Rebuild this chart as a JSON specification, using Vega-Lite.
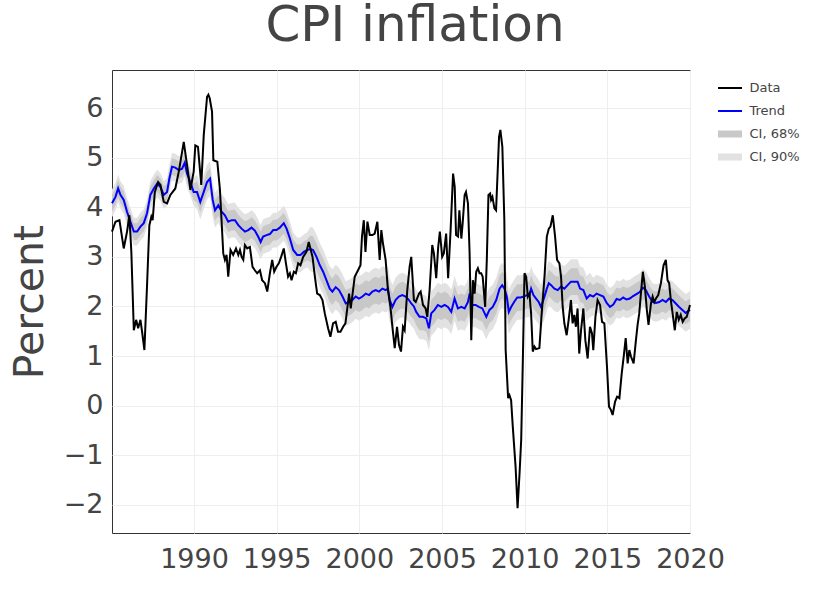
{
  "$schema": "https://vega.github.io/schema/vega-lite/v6.json",
  "width": 578,
  "height": 463,
  "autosize": {"type": "none"},
  "padding": {"left": 112, "top": 70, "right": 141, "bottom": 60},
  "background": "white",
  "title": {"text": "CPI inflation", "font": "DejaVu Sans", "fontSize": 50, "fontWeight": "normal", "color": "#444", "anchor": "middle", "frame": "group", "dx": 14, "offset": 19},
  "config": {
    "view": {"stroke": "#333", "strokeWidth": 1},
    "font": "DejaVu Sans",
    "axis": {"grid": true, "gridColor": "#eeeeee", "gridWidth": 1, "domain": false, "ticks": false, "tickSize": 0, "labelFont": "DejaVu Sans", "labelFontSize": 27, "labelColor": "#444", "titleFont": "DejaVu Sans", "titleFontWeight": "normal", "titleColor": "#444", "labelFlush": false, "labelOverlap": false}
  },
  "datasets": {
    "obs": [
      {"t":1985.04,"v":3.51},{"t":1985.25,"v":3.71},{"t":1985.49,"v":3.74},{"t":1985.75,"v":3.17},{"t":1985.95,"v":3.51},{"t":1986.09,"v":3.84},{"t":1986.21,"v":3.10},{"t":1986.36,"v":1.52},{"t":1986.50,"v":1.73},{"t":1986.62,"v":1.56},{"t":1986.76,"v":1.73},{"t":1986.86,"v":1.49},{"t":1987.00,"v":1.12},{"t":1987.16,"v":2.43},{"t":1987.30,"v":3.64},{"t":1987.42,"v":3.81},{"t":1987.50,"v":3.74},{"t":1987.63,"v":4.31},{"t":1987.83,"v":4.51},{"t":1987.97,"v":4.45},{"t":1988.17,"v":4.11},{"t":1988.37,"v":4.08},{"t":1988.57,"v":4.25},{"t":1988.87,"v":4.38},{"t":1989.08,"v":4.72},{"t":1989.38,"v":5.32},{"t":1989.58,"v":4.85},{"t":1989.78,"v":4.35},{"t":1989.98,"v":4.72},{"t":1990.08,"v":5.25},{"t":1990.24,"v":5.22},{"t":1990.44,"v":4.45},{"t":1990.59,"v":5.46},{"t":1990.79,"v":6.23},{"t":1990.87,"v":6.27},{"t":1990.95,"v":6.20},{"t":1991.09,"v":5.93},{"t":1991.17,"v":4.95},{"t":1991.41,"v":4.92},{"t":1991.57,"v":4.35},{"t":1991.77,"v":3.07},{"t":1991.87,"v":2.94},{"t":1991.97,"v":3.04},{"t":1992.07,"v":2.60},{"t":1992.21,"v":3.14},{"t":1992.37,"v":3.04},{"t":1992.54,"v":3.17},{"t":1992.68,"v":3.04},{"t":1992.78,"v":3.14},{"t":1992.88,"v":3.00},{"t":1992.98,"v":2.94},{"t":1993.08,"v":3.24},{"t":1993.22,"v":3.17},{"t":1993.38,"v":3.20},{"t":1993.54,"v":2.80},{"t":1993.68,"v":2.73},{"t":1993.82,"v":2.67},{"t":1993.99,"v":2.73},{"t":1994.12,"v":2.53},{"t":1994.29,"v":2.47},{"t":1994.43,"v":2.30},{"t":1994.59,"v":2.67},{"t":1994.73,"v":2.94},{"t":1994.85,"v":2.70},{"t":1994.99,"v":2.80},{"t":1995.13,"v":2.87},{"t":1995.27,"v":3.00},{"t":1995.43,"v":3.17},{"t":1995.56,"v":2.87},{"t":1995.69,"v":2.60},{"t":1995.80,"v":2.67},{"t":1995.90,"v":2.53},{"t":1996.04,"v":2.70},{"t":1996.16,"v":2.67},{"t":1996.30,"v":2.87},{"t":1996.44,"v":2.83},{"t":1996.60,"v":3.00},{"t":1996.80,"v":3.10},{"t":1996.94,"v":3.30},{"t":1997.17,"v":3.00},{"t":1997.31,"v":2.60},{"t":1997.45,"v":2.26},{"t":1997.61,"v":2.23},{"t":1997.77,"v":2.13},{"t":1997.91,"v":1.86},{"t":1998.11,"v":1.56},{"t":1998.25,"v":1.39},{"t":1998.41,"v":1.66},{"t":1998.57,"v":1.69},{"t":1998.71,"v":1.49},{"t":1998.86,"v":1.49},{"t":1999.02,"v":1.59},{"t":1999.16,"v":1.66},{"t":1999.26,"v":1.93},{"t":1999.38,"v":2.26},{"t":1999.48,"v":1.96},{"t":1999.62,"v":2.33},{"t":1999.72,"v":2.60},{"t":1999.92,"v":2.73},{"t":2000.07,"v":2.83},{"t":2000.16,"v":3.41},{"t":2000.27,"v":3.74},{"t":2000.37,"v":3.10},{"t":2000.49,"v":3.71},{"t":2000.63,"v":3.44},{"t":2000.79,"v":3.44},{"t":2000.93,"v":3.47},{"t":2001.09,"v":3.71},{"t":2001.23,"v":2.94},{"t":2001.33,"v":3.54},{"t":2001.43,"v":3.27},{"t":2001.59,"v":2.94},{"t":2001.73,"v":2.33},{"t":2001.88,"v":1.99},{"t":2002.00,"v":1.59},{"t":2002.14,"v":1.16},{"t":2002.28,"v":1.59},{"t":2002.40,"v":1.22},{"t":2002.52,"v":1.09},{"t":2002.64,"v":1.59},{"t":2002.74,"v":1.52},{"t":2002.90,"v":2.33},{"t":2003.04,"v":2.80},{"t":2003.14,"v":3.00},{"t":2003.30,"v":2.13},{"t":2003.41,"v":2.09},{"t":2003.61,"v":2.26},{"t":2003.71,"v":2.30},{"t":2003.85,"v":2.03},{"t":2004.01,"v":1.96},{"t":2004.11,"v":1.79},{"t":2004.25,"v":2.33},{"t":2004.41,"v":3.24},{"t":2004.51,"v":3.07},{"t":2004.65,"v":2.57},{"t":2004.77,"v":3.20},{"t":2004.87,"v":3.51},{"t":2005.01,"v":3.00},{"t":2005.11,"v":3.07},{"t":2005.25,"v":3.47},{"t":2005.37,"v":2.57},{"t":2005.52,"v":3.54},{"t":2005.67,"v":4.68},{"t":2005.77,"v":4.41},{"t":2005.85,"v":3.44},{"t":2005.97,"v":3.41},{"t":2006.05,"v":3.94},{"t":2006.17,"v":3.37},{"t":2006.25,"v":3.68},{"t":2006.37,"v":4.25},{"t":2006.45,"v":4.31},{"t":2006.57,"v":4.08},{"t":2006.67,"v":3.07},{"t":2006.77,"v":1.32},{"t":2006.87,"v":2.53},{"t":2006.97,"v":2.26},{"t":2007.07,"v":2.70},{"t":2007.17,"v":2.77},{"t":2007.27,"v":2.67},{"t":2007.37,"v":2.67},{"t":2007.46,"v":2.60},{"t":2007.61,"v":1.99},{"t":2007.71,"v":2.94},{"t":2007.81,"v":4.25},{"t":2007.91,"v":4.28},{"t":2007.97,"v":4.15},{"t":2008.05,"v":4.21},{"t":2008.17,"v":3.98},{"t":2008.27,"v":3.94},{"t":2008.37,"v":4.75},{"t":2008.45,"v":5.42},{"t":2008.53,"v":5.56},{"t":2008.65,"v":5.22},{"t":2008.77,"v":3.74},{"t":2008.85,"v":1.12},{"t":2009.00,"v":0.15},{"t":2009.08,"v":0.21},{"t":2009.18,"v":0.11},{"t":2009.28,"v":-0.42},{"t":2009.45,"v":-1.23},{"t":2009.57,"v":-2.07},{"t":2009.69,"v":-1.37},{"t":2009.79,"v":-0.69},{"t":2009.89,"v":0.92},{"t":2009.99,"v":2.67},{"t":2010.09,"v":2.60},{"t":2010.19,"v":2.20},{"t":2010.29,"v":2.26},{"t":2010.39,"v":1.86},{"t":2010.49,"v":1.09},{"t":2010.59,"v":1.19},{"t":2010.69,"v":1.14},{"t":2010.89,"v":1.16},{"t":2011.03,"v":1.86},{"t":2011.20,"v":2.60},{"t":2011.34,"v":3.41},{"t":2011.46,"v":3.57},{"t":2011.56,"v":3.61},{"t":2011.70,"v":3.84},{"t":2011.84,"v":3.41},{"t":2011.96,"v":2.94},{"t":2012.10,"v":2.87},{"t":2012.20,"v":2.60},{"t":2012.30,"v":1.99},{"t":2012.40,"v":1.66},{"t":2012.54,"v":1.42},{"t":2012.66,"v":1.73},{"t":2012.80,"v":2.13},{"t":2012.90,"v":1.66},{"t":2013.00,"v":1.83},{"t":2013.10,"v":1.59},{"t":2013.20,"v":1.96},{"t":2013.30,"v":1.05},{"t":2013.41,"v":1.52},{"t":2013.55,"v":1.96},{"t":2013.67,"v":1.32},{"t":2013.81,"v":0.95},{"t":2013.95,"v":1.59},{"t":2014.07,"v":1.46},{"t":2014.15,"v":1.12},{"t":2014.28,"v":1.79},{"t":2014.41,"v":2.13},{"t":2014.56,"v":2.03},{"t":2014.68,"v":1.69},{"t":2014.82,"v":1.66},{"t":2014.98,"v":0.78},{"t":2015.10,"v":-0.02},{"t":2015.22,"v":-0.09},{"t":2015.32,"v":-0.19},{"t":2015.47,"v":0.08},{"t":2015.59,"v":0.18},{"t":2015.73,"v":0.15},{"t":2015.87,"v":0.65},{"t":2015.99,"v":0.99},{"t":2016.11,"v":1.36},{"t":2016.23,"v":0.85},{"t":2016.33,"v":1.12},{"t":2016.43,"v":0.99},{"t":2016.59,"v":0.85},{"t":2016.73,"v":1.32},{"t":2016.83,"v":1.63},{"t":2016.93,"v":1.86},{"t":2017.03,"v":2.26},{"t":2017.15,"v":2.70},{"t":2017.27,"v":2.40},{"t":2017.39,"v":1.93},{"t":2017.49,"v":1.63},{"t":2017.64,"v":2.06},{"t":2017.74,"v":2.20},{"t":2017.84,"v":2.09},{"t":2017.94,"v":2.16},{"t":2018.08,"v":2.23},{"t":2018.24,"v":2.47},{"t":2018.40,"v":2.83},{"t":2018.54,"v":2.94},{"t":2018.64,"v":2.53},{"t":2018.74,"v":2.47},{"t":2018.84,"v":2.13},{"t":2018.96,"v":1.83},{"t":2019.08,"v":1.52},{"t":2019.20,"v":1.89},{"t":2019.32,"v":1.73},{"t":2019.44,"v":1.83},{"t":2019.56,"v":1.69},{"t":2019.68,"v":1.76},{"t":2019.80,"v":1.79},{"t":2020.00,"v":2.03}
    ],
    "trend": [
      {"t":1985.04,"v":4.08,"lo90":3.80,"lo68":3.91,"hi68":4.25,"hi90":4.36},
      {"t":1985.25,"v":4.21,"lo90":3.93,"lo68":4.04,"hi68":4.38,"hi90":4.49},
      {"t":1985.41,"v":4.38,"lo90":4.10,"lo68":4.21,"hi68":4.55,"hi90":4.66},
      {"t":1985.55,"v":4.25,"lo90":3.97,"lo68":4.08,"hi68":4.42,"hi90":4.53},
      {"t":1985.75,"v":4.15,"lo90":3.87,"lo68":3.98,"hi68":4.32,"hi90":4.43},
      {"t":1985.95,"v":3.91,"lo90":3.63,"lo68":3.74,"hi68":4.08,"hi90":4.19},
      {"t":1986.15,"v":3.71,"lo90":3.43,"lo68":3.54,"hi68":3.88,"hi90":3.99},
      {"t":1986.36,"v":3.51,"lo90":3.23,"lo68":3.34,"hi68":3.68,"hi90":3.79},
      {"t":1986.56,"v":3.51,"lo90":3.23,"lo68":3.34,"hi68":3.68,"hi90":3.79},
      {"t":1986.76,"v":3.61,"lo90":3.33,"lo68":3.44,"hi68":3.78,"hi90":3.89},
      {"t":1986.96,"v":3.68,"lo90":3.40,"lo68":3.51,"hi68":3.85,"hi90":3.96},
      {"t":1987.16,"v":3.88,"lo90":3.60,"lo68":3.71,"hi68":4.05,"hi90":4.16},
      {"t":1987.36,"v":4.25,"lo90":3.97,"lo68":4.08,"hi68":4.42,"hi90":4.53},
      {"t":1987.57,"v":4.38,"lo90":4.10,"lo68":4.21,"hi68":4.55,"hi90":4.66},
      {"t":1987.77,"v":4.48,"lo90":4.20,"lo68":4.31,"hi68":4.65,"hi90":4.76},
      {"t":1987.97,"v":4.41,"lo90":4.13,"lo68":4.24,"hi68":4.58,"hi90":4.69},
      {"t":1988.17,"v":4.25,"lo90":3.97,"lo68":4.08,"hi68":4.42,"hi90":4.53},
      {"t":1988.37,"v":4.31,"lo90":4.03,"lo68":4.14,"hi68":4.48,"hi90":4.59},
      {"t":1988.51,"v":4.58,"lo90":4.30,"lo68":4.41,"hi68":4.75,"hi90":4.86},
      {"t":1988.67,"v":4.82,"lo90":4.54,"lo68":4.65,"hi68":4.99,"hi90":5.10},
      {"t":1988.87,"v":4.80,"lo90":4.52,"lo68":4.63,"hi68":4.97,"hi90":5.08},
      {"t":1989.08,"v":4.75,"lo90":4.47,"lo68":4.58,"hi68":4.92,"hi90":5.03},
      {"t":1989.28,"v":4.78,"lo90":4.50,"lo68":4.61,"hi68":4.95,"hi90":5.06},
      {"t":1989.44,"v":4.90,"lo90":4.62,"lo68":4.73,"hi68":5.07,"hi90":5.18},
      {"t":1989.58,"v":4.68,"lo90":4.40,"lo68":4.51,"hi68":4.85,"hi90":4.96},
      {"t":1989.78,"v":4.51,"lo90":4.23,"lo68":4.34,"hi68":4.68,"hi90":4.79},
      {"t":1989.98,"v":4.31,"lo90":4.03,"lo68":4.14,"hi68":4.48,"hi90":4.59},
      {"t":1990.18,"v":4.31,"lo90":3.96,"lo68":4.10,"hi68":4.52,"hi90":4.66},
      {"t":1990.38,"v":4.11,"lo90":3.76,"lo68":3.90,"hi68":4.32,"hi90":4.46},
      {"t":1990.59,"v":4.31,"lo90":3.96,"lo68":4.10,"hi68":4.52,"hi90":4.66},
      {"t":1990.79,"v":4.51,"lo90":4.16,"lo68":4.30,"hi68":4.72,"hi90":4.86},
      {"t":1990.97,"v":4.58,"lo90":4.23,"lo68":4.37,"hi68":4.79,"hi90":4.93},
      {"t":1991.13,"v":4.15,"lo90":3.80,"lo68":3.94,"hi68":4.36,"hi90":4.50},
      {"t":1991.27,"v":3.94,"lo90":3.59,"lo68":3.73,"hi68":4.15,"hi90":4.29},
      {"t":1991.47,"v":4.04,"lo90":3.69,"lo68":3.83,"hi68":4.25,"hi90":4.39},
      {"t":1991.67,"v":3.91,"lo90":3.56,"lo68":3.70,"hi68":4.12,"hi90":4.26},
      {"t":1991.87,"v":3.84,"lo90":3.49,"lo68":3.63,"hi68":4.05,"hi90":4.19},
      {"t":1992.07,"v":3.71,"lo90":3.36,"lo68":3.50,"hi68":3.92,"hi90":4.06},
      {"t":1992.28,"v":3.74,"lo90":3.39,"lo68":3.53,"hi68":3.95,"hi90":4.09},
      {"t":1992.48,"v":3.74,"lo90":3.39,"lo68":3.53,"hi68":3.95,"hi90":4.09},
      {"t":1992.68,"v":3.64,"lo90":3.29,"lo68":3.43,"hi68":3.85,"hi90":3.99},
      {"t":1992.88,"v":3.57,"lo90":3.22,"lo68":3.36,"hi68":3.78,"hi90":3.92},
      {"t":1993.08,"v":3.51,"lo90":3.16,"lo68":3.30,"hi68":3.72,"hi90":3.86},
      {"t":1993.28,"v":3.54,"lo90":3.19,"lo68":3.33,"hi68":3.75,"hi90":3.89},
      {"t":1993.48,"v":3.59,"lo90":3.24,"lo68":3.38,"hi68":3.80,"hi90":3.94},
      {"t":1993.68,"v":3.53,"lo90":3.18,"lo68":3.32,"hi68":3.74,"hi90":3.88},
      {"t":1993.88,"v":3.41,"lo90":3.06,"lo68":3.20,"hi68":3.62,"hi90":3.76},
      {"t":1994.03,"v":3.30,"lo90":2.95,"lo68":3.09,"hi68":3.51,"hi90":3.65},
      {"t":1994.18,"v":3.41,"lo90":3.06,"lo68":3.20,"hi68":3.62,"hi90":3.76},
      {"t":1994.39,"v":3.44,"lo90":3.09,"lo68":3.23,"hi68":3.65,"hi90":3.79},
      {"t":1994.59,"v":3.46,"lo90":3.11,"lo68":3.25,"hi68":3.67,"hi90":3.81},
      {"t":1994.79,"v":3.54,"lo90":3.19,"lo68":3.33,"hi68":3.75,"hi90":3.89},
      {"t":1994.99,"v":3.54,"lo90":3.19,"lo68":3.33,"hi68":3.75,"hi90":3.89},
      {"t":1995.19,"v":3.59,"lo90":3.24,"lo68":3.38,"hi68":3.80,"hi90":3.94},
      {"t":1995.43,"v":3.68,"lo90":3.33,"lo68":3.47,"hi68":3.89,"hi90":4.03},
      {"t":1995.60,"v":3.57,"lo90":3.22,"lo68":3.36,"hi68":3.78,"hi90":3.92},
      {"t":1995.80,"v":3.37,"lo90":3.02,"lo68":3.16,"hi68":3.58,"hi90":3.72},
      {"t":1996.00,"v":3.14,"lo90":2.79,"lo68":2.93,"hi68":3.35,"hi90":3.49},
      {"t":1996.24,"v":3.04,"lo90":2.69,"lo68":2.83,"hi68":3.25,"hi90":3.39},
      {"t":1996.44,"v":3.04,"lo90":2.69,"lo68":2.83,"hi68":3.25,"hi90":3.39},
      {"t":1996.64,"v":3.10,"lo90":2.75,"lo68":2.89,"hi68":3.31,"hi90":3.45},
      {"t":1996.84,"v":3.14,"lo90":2.79,"lo68":2.93,"hi68":3.35,"hi90":3.49},
      {"t":1997.05,"v":3.16,"lo90":2.71,"lo68":2.89,"hi68":3.43,"hi90":3.61},
      {"t":1997.20,"v":3.14,"lo90":2.69,"lo68":2.87,"hi68":3.41,"hi90":3.59},
      {"t":1997.41,"v":3.00,"lo90":2.55,"lo68":2.73,"hi68":3.27,"hi90":3.45},
      {"t":1997.61,"v":2.83,"lo90":2.38,"lo68":2.56,"hi68":3.10,"hi90":3.28},
      {"t":1997.81,"v":2.70,"lo90":2.25,"lo68":2.43,"hi68":2.97,"hi90":3.15},
      {"t":1998.01,"v":2.53,"lo90":2.08,"lo68":2.26,"hi68":2.80,"hi90":2.98},
      {"t":1998.21,"v":2.36,"lo90":1.91,"lo68":2.09,"hi68":2.63,"hi90":2.81},
      {"t":1998.37,"v":2.30,"lo90":1.85,"lo68":2.03,"hi68":2.57,"hi90":2.75},
      {"t":1998.57,"v":2.39,"lo90":1.94,"lo68":2.12,"hi68":2.66,"hi90":2.84},
      {"t":1998.77,"v":2.33,"lo90":1.88,"lo68":2.06,"hi68":2.60,"hi90":2.78},
      {"t":1998.98,"v":2.20,"lo90":1.75,"lo68":1.93,"hi68":2.47,"hi90":2.65},
      {"t":1999.18,"v":2.06,"lo90":1.61,"lo68":1.79,"hi68":2.33,"hi90":2.51},
      {"t":1999.38,"v":2.09,"lo90":1.64,"lo68":1.82,"hi68":2.36,"hi90":2.54},
      {"t":1999.58,"v":2.13,"lo90":1.68,"lo68":1.86,"hi68":2.40,"hi90":2.58},
      {"t":1999.78,"v":2.20,"lo90":1.75,"lo68":1.93,"hi68":2.47,"hi90":2.65},
      {"t":1999.98,"v":2.16,"lo90":1.71,"lo68":1.89,"hi68":2.43,"hi90":2.61},
      {"t":2000.19,"v":2.20,"lo90":1.75,"lo68":1.93,"hi68":2.47,"hi90":2.65},
      {"t":2000.39,"v":2.26,"lo90":1.81,"lo68":1.99,"hi68":2.53,"hi90":2.71},
      {"t":2000.59,"v":2.23,"lo90":1.78,"lo68":1.96,"hi68":2.50,"hi90":2.68},
      {"t":2000.79,"v":2.30,"lo90":1.85,"lo68":2.03,"hi68":2.57,"hi90":2.75},
      {"t":2000.99,"v":2.33,"lo90":1.88,"lo68":2.06,"hi68":2.60,"hi90":2.78},
      {"t":2001.19,"v":2.30,"lo90":1.85,"lo68":2.03,"hi68":2.57,"hi90":2.75},
      {"t":2001.40,"v":2.36,"lo90":1.91,"lo68":2.09,"hi68":2.63,"hi90":2.81},
      {"t":2001.59,"v":2.33,"lo90":1.88,"lo68":2.06,"hi68":2.60,"hi90":2.78},
      {"t":2001.73,"v":2.36,"lo90":1.91,"lo68":2.09,"hi68":2.63,"hi90":2.81},
      {"t":2001.84,"v":2.13,"lo90":1.68,"lo68":1.86,"hi68":2.40,"hi90":2.58},
      {"t":2002.00,"v":1.99,"lo90":1.54,"lo68":1.72,"hi68":2.26,"hi90":2.44},
      {"t":2002.19,"v":2.13,"lo90":1.68,"lo68":1.86,"hi68":2.40,"hi90":2.58},
      {"t":2002.39,"v":2.20,"lo90":1.75,"lo68":1.93,"hi68":2.47,"hi90":2.65},
      {"t":2002.60,"v":2.23,"lo90":1.78,"lo68":1.96,"hi68":2.50,"hi90":2.68},
      {"t":2002.80,"v":2.20,"lo90":1.75,"lo68":1.93,"hi68":2.47,"hi90":2.65},
      {"t":2003.00,"v":2.13,"lo90":1.68,"lo68":1.86,"hi68":2.40,"hi90":2.58},
      {"t":2003.14,"v":2.06,"lo90":1.61,"lo68":1.79,"hi68":2.33,"hi90":2.51},
      {"t":2003.30,"v":2.00,"lo90":1.55,"lo68":1.73,"hi68":2.27,"hi90":2.45},
      {"t":2003.44,"v":1.89,"lo90":1.44,"lo68":1.62,"hi68":2.16,"hi90":2.34},
      {"t":2003.64,"v":1.79,"lo90":1.34,"lo68":1.52,"hi68":2.06,"hi90":2.24},
      {"t":2003.84,"v":1.79,"lo90":1.34,"lo68":1.52,"hi68":2.06,"hi90":2.24},
      {"t":2004.05,"v":1.76,"lo90":1.31,"lo68":1.49,"hi68":2.03,"hi90":2.21},
      {"t":2004.21,"v":1.56,"lo90":1.11,"lo68":1.29,"hi68":1.83,"hi90":2.01},
      {"t":2004.35,"v":1.86,"lo90":1.41,"lo68":1.59,"hi68":2.13,"hi90":2.31},
      {"t":2004.55,"v":1.93,"lo90":1.48,"lo68":1.66,"hi68":2.20,"hi90":2.38},
      {"t":2004.75,"v":2.03,"lo90":1.58,"lo68":1.76,"hi68":2.30,"hi90":2.48},
      {"t":2004.96,"v":1.99,"lo90":1.54,"lo68":1.72,"hi68":2.26,"hi90":2.44},
      {"t":2005.16,"v":2.03,"lo90":1.58,"lo68":1.76,"hi68":2.30,"hi90":2.48},
      {"t":2005.36,"v":1.99,"lo90":1.54,"lo68":1.72,"hi68":2.26,"hi90":2.44},
      {"t":2005.56,"v":1.89,"lo90":1.44,"lo68":1.62,"hi68":2.16,"hi90":2.34},
      {"t":2005.76,"v":2.16,"lo90":1.71,"lo68":1.89,"hi68":2.43,"hi90":2.61},
      {"t":2005.96,"v":1.96,"lo90":1.51,"lo68":1.69,"hi68":2.23,"hi90":2.41},
      {"t":2006.17,"v":1.99,"lo90":1.54,"lo68":1.72,"hi68":2.26,"hi90":2.44},
      {"t":2006.37,"v":1.96,"lo90":1.51,"lo68":1.69,"hi68":2.23,"hi90":2.41},
      {"t":2006.57,"v":2.09,"lo90":1.64,"lo68":1.82,"hi68":2.36,"hi90":2.54},
      {"t":2006.67,"v":2.26,"lo90":1.81,"lo68":1.99,"hi68":2.53,"hi90":2.71},
      {"t":2006.83,"v":2.03,"lo90":1.58,"lo68":1.76,"hi68":2.30,"hi90":2.48},
      {"t":2007.03,"v":2.03,"lo90":1.58,"lo68":1.76,"hi68":2.30,"hi90":2.48},
      {"t":2007.23,"v":1.99,"lo90":1.54,"lo68":1.72,"hi68":2.26,"hi90":2.44},
      {"t":2007.44,"v":1.96,"lo90":1.51,"lo68":1.69,"hi68":2.23,"hi90":2.41},
      {"t":2007.68,"v":1.79,"lo90":1.34,"lo68":1.52,"hi68":2.06,"hi90":2.24},
      {"t":2007.87,"v":1.93,"lo90":1.48,"lo68":1.66,"hi68":2.20,"hi90":2.38},
      {"t":2008.07,"v":1.99,"lo90":1.54,"lo68":1.72,"hi68":2.26,"hi90":2.44},
      {"t":2008.28,"v":2.13,"lo90":1.68,"lo68":1.86,"hi68":2.40,"hi90":2.58},
      {"t":2008.48,"v":2.36,"lo90":1.91,"lo68":2.09,"hi68":2.63,"hi90":2.81},
      {"t":2008.64,"v":2.43,"lo90":1.98,"lo68":2.16,"hi68":2.70,"hi90":2.88},
      {"t":2008.78,"v":2.36,"lo90":1.91,"lo68":2.09,"hi68":2.63,"hi90":2.81},
      {"t":2008.92,"v":2.20,"lo90":1.75,"lo68":1.93,"hi68":2.47,"hi90":2.65},
      {"t":2009.04,"v":1.89,"lo90":1.44,"lo68":1.62,"hi68":2.16,"hi90":2.34},
      {"t":2009.18,"v":1.99,"lo90":1.54,"lo68":1.72,"hi68":2.26,"hi90":2.44},
      {"t":2009.38,"v":2.10,"lo90":1.65,"lo68":1.83,"hi68":2.37,"hi90":2.55},
      {"t":2009.55,"v":2.18,"lo90":1.73,"lo68":1.91,"hi68":2.45,"hi90":2.63},
      {"t":2009.75,"v":2.18,"lo90":1.73,"lo68":1.91,"hi68":2.45,"hi90":2.63},
      {"t":2009.95,"v":2.20,"lo90":1.75,"lo68":1.93,"hi68":2.47,"hi90":2.65},
      {"t":2010.15,"v":2.23,"lo90":1.78,"lo68":1.96,"hi68":2.50,"hi90":2.68},
      {"t":2010.29,"v":2.23,"lo90":1.78,"lo68":1.96,"hi68":2.50,"hi90":2.68},
      {"t":2010.39,"v":2.36,"lo90":1.91,"lo68":2.09,"hi68":2.63,"hi90":2.81},
      {"t":2010.53,"v":2.23,"lo90":1.78,"lo68":1.96,"hi68":2.50,"hi90":2.68},
      {"t":2010.69,"v":2.16,"lo90":1.71,"lo68":1.89,"hi68":2.43,"hi90":2.61},
      {"t":2010.85,"v":2.09,"lo90":1.64,"lo68":1.82,"hi68":2.36,"hi90":2.54},
      {"t":2010.99,"v":1.99,"lo90":1.54,"lo68":1.72,"hi68":2.26,"hi90":2.44},
      {"t":2011.20,"v":2.20,"lo90":1.75,"lo68":1.93,"hi68":2.47,"hi90":2.65},
      {"t":2011.34,"v":2.36,"lo90":1.91,"lo68":2.09,"hi68":2.63,"hi90":2.81},
      {"t":2011.46,"v":2.47,"lo90":2.02,"lo68":2.20,"hi68":2.74,"hi90":2.92},
      {"t":2011.60,"v":2.43,"lo90":1.98,"lo68":2.16,"hi68":2.70,"hi90":2.88},
      {"t":2011.80,"v":2.36,"lo90":1.91,"lo68":2.09,"hi68":2.63,"hi90":2.81},
      {"t":2012.00,"v":2.33,"lo90":1.88,"lo68":2.06,"hi68":2.60,"hi90":2.78},
      {"t":2012.20,"v":2.40,"lo90":1.95,"lo68":2.13,"hi68":2.67,"hi90":2.85},
      {"t":2012.40,"v":2.36,"lo90":1.91,"lo68":2.09,"hi68":2.63,"hi90":2.81},
      {"t":2012.60,"v":2.43,"lo90":1.98,"lo68":2.16,"hi68":2.70,"hi90":2.88},
      {"t":2012.80,"v":2.50,"lo90":2.05,"lo68":2.23,"hi68":2.77,"hi90":2.95},
      {"t":2013.00,"v":2.50,"lo90":2.05,"lo68":2.23,"hi68":2.77,"hi90":2.95},
      {"t":2013.20,"v":2.50,"lo90":2.05,"lo68":2.23,"hi68":2.77,"hi90":2.95},
      {"t":2013.35,"v":2.36,"lo90":1.91,"lo68":2.09,"hi68":2.63,"hi90":2.81},
      {"t":2013.55,"v":2.33,"lo90":1.88,"lo68":2.06,"hi68":2.60,"hi90":2.78},
      {"t":2013.75,"v":2.16,"lo90":1.71,"lo68":1.89,"hi68":2.43,"hi90":2.61},
      {"t":2013.95,"v":2.23,"lo90":1.78,"lo68":1.96,"hi68":2.50,"hi90":2.68},
      {"t":2014.15,"v":2.20,"lo90":1.82,"lo68":1.97,"hi68":2.43,"hi90":2.58},
      {"t":2014.35,"v":2.26,"lo90":1.88,"lo68":2.03,"hi68":2.49,"hi90":2.64},
      {"t":2014.56,"v":2.23,"lo90":1.85,"lo68":2.00,"hi68":2.46,"hi90":2.61},
      {"t":2014.76,"v":2.20,"lo90":1.82,"lo68":1.97,"hi68":2.43,"hi90":2.58},
      {"t":2014.96,"v":2.07,"lo90":1.69,"lo68":1.84,"hi68":2.30,"hi90":2.45},
      {"t":2015.16,"v":1.99,"lo90":1.61,"lo68":1.76,"hi68":2.22,"hi90":2.37},
      {"t":2015.36,"v":2.04,"lo90":1.66,"lo68":1.81,"hi68":2.27,"hi90":2.42},
      {"t":2015.56,"v":2.15,"lo90":1.77,"lo68":1.92,"hi68":2.38,"hi90":2.53},
      {"t":2015.76,"v":2.13,"lo90":1.75,"lo68":1.90,"hi68":2.36,"hi90":2.51},
      {"t":2015.96,"v":2.18,"lo90":1.80,"lo68":1.95,"hi68":2.41,"hi90":2.56},
      {"t":2016.16,"v":2.14,"lo90":1.76,"lo68":1.91,"hi68":2.37,"hi90":2.52},
      {"t":2016.36,"v":2.16,"lo90":1.78,"lo68":1.93,"hi68":2.39,"hi90":2.54},
      {"t":2016.56,"v":2.21,"lo90":1.83,"lo68":1.98,"hi68":2.44,"hi90":2.59},
      {"t":2016.76,"v":2.25,"lo90":1.87,"lo68":2.02,"hi68":2.48,"hi90":2.63},
      {"t":2016.96,"v":2.29,"lo90":1.91,"lo68":2.06,"hi68":2.52,"hi90":2.67},
      {"t":2017.15,"v":2.38,"lo90":2.00,"lo68":2.15,"hi68":2.61,"hi90":2.76},
      {"t":2017.33,"v":2.33,"lo90":1.95,"lo68":2.10,"hi68":2.56,"hi90":2.71},
      {"t":2017.53,"v":2.20,"lo90":1.82,"lo68":1.97,"hi68":2.43,"hi90":2.58},
      {"t":2017.74,"v":2.09,"lo90":1.71,"lo68":1.86,"hi68":2.32,"hi90":2.47},
      {"t":2017.94,"v":2.07,"lo90":1.69,"lo68":1.84,"hi68":2.30,"hi90":2.45},
      {"t":2018.14,"v":2.09,"lo90":1.71,"lo68":1.86,"hi68":2.32,"hi90":2.47},
      {"t":2018.34,"v":2.13,"lo90":1.75,"lo68":1.90,"hi68":2.36,"hi90":2.51},
      {"t":2018.54,"v":2.09,"lo90":1.71,"lo68":1.86,"hi68":2.32,"hi90":2.47},
      {"t":2018.74,"v":2.16,"lo90":1.78,"lo68":1.93,"hi68":2.39,"hi90":2.54},
      {"t":2018.94,"v":2.13,"lo90":1.75,"lo68":1.90,"hi68":2.36,"hi90":2.51},
      {"t":2019.14,"v":2.06,"lo90":1.68,"lo68":1.83,"hi68":2.29,"hi90":2.44},
      {"t":2019.34,"v":1.99,"lo90":1.61,"lo68":1.76,"hi68":2.22,"hi90":2.37},
      {"t":2019.54,"v":1.93,"lo90":1.55,"lo68":1.70,"hi68":2.16,"hi90":2.31},
      {"t":2019.74,"v":1.87,"lo90":1.49,"lo68":1.64,"hi68":2.10,"hi90":2.25},
      {"t":2020.00,"v":1.93,"lo90":1.55,"lo68":1.70,"hi68":2.16,"hi90":2.31}
    ]
  },
  "encoding": {
    "x": {"field": "t", "type": "quantitative", "scale": {"domain": [1985.04, 2020.0], "nice": false, "zero": false}, "axis": {"title": null, "values": [1990, 1995, 2000, 2005, 2010, 2015, 2020], "format": "d", "labelPadding": 13}}
  },
  "layer": [
    {
      "data": {"name": "trend"},
      "mark": {"type": "area", "opacity": 1},
      "encoding": {
        "y": {"field": "lo90", "type": "quantitative", "scale": {"domain": [-2.57, 6.77], "nice": false, "zero": false}, "axis": {"title": "Percent", "titleFontSize": 41, "values": [-2, -1, 0, 1, 2, 3, 4, 5, 6], "labelPadding": 9, "titlePadding": 12}},
        "y2": {"field": "hi90"},
        "color": {
          "datum": "CI, 90%", "type": "nominal",
          "scale": {"domain": ["Data", "Trend", "CI, 68%", "CI, 90%"], "range": ["#000000", "#0000ff", "#c8c8c8", "#e2e2e2"]},
          "legend": {
            "title": null, "orient": "right", "offset": 20.5, "padding": 7,
            "symbolType": "M-1.75,0H1.75", "symbolSize": 400, "symbolStrokeWidth": 2, "symbolOpacity": 1,
            "labelFont": "DejaVu Sans", "labelFontSize": 13, "labelColor": "#444", "labelOffset": 18.5, "rowPadding": 1, "clipHeight": 22,
            "encode": {"symbols": {"update": {"stroke": {"scale": "color", "field": "value"}, "fill": {"value": "transparent"}, "strokeWidth": {"signal": "datum.value == 'CI, 68%' || datum.value == 'CI, 90%' ? 7 : 2"}}}}
          }
        }
      }
    },
    {
      "data": {"name": "trend"},
      "mark": {"type": "area", "opacity": 1},
      "encoding": {
        "y": {"field": "lo68", "type": "quantitative"},
        "y2": {"field": "hi68"},
        "color": {"datum": "CI, 68%", "type": "nominal"}
      }
    },
    {
      "data": {"name": "trend"},
      "mark": {"type": "line", "strokeWidth": 2},
      "encoding": {
        "y": {"field": "v", "type": "quantitative"},
        "color": {"datum": "Trend", "type": "nominal"}
      }
    },
    {
      "data": {"name": "obs"},
      "mark": {"type": "line", "strokeWidth": 2},
      "encoding": {
        "y": {"field": "v", "type": "quantitative"},
        "color": {"datum": "Data", "type": "nominal"}
      }
    }
  ]
}
